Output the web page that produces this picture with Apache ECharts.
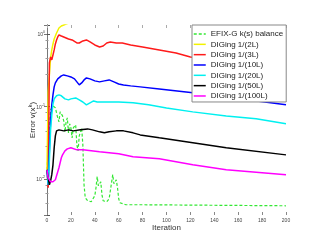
<!DOCTYPE html>
<html>
<head>
<meta charset="utf-8">
<script src="https://cdn.jsdelivr.net/npm/echarts@6/dist/echarts.min.js"></script>
<style>html,body{margin:0;padding:0;background:#fff;}#c{width:323px;height:249px;}</style>
</head>
<body>
<div id="c"></div>
<script>
// ---- data ----
const seriesNames = ['EFIX-G k(s) balance','DIGing 1/(2L)','DIGing 1/(3L)','DIGing 1/(10L)','DIGing 1/(20L)','DIGing 1/(50L)','DIGing 1/(100L)'];
const xTicks = [0,20,40,60,80,100,120,140,160,180,200];
const yDecades = [0.01, 0.1, 1];

const greenIter = [0,1,2,3,5,7,9,10,11,13,14,15,16,17,18,19,20,21,22,24,25,26,27,29,30,31,32,34,37,40,41,42,43,44,45,46,47,50,52,54,55,56,57,58,59,60,61,66,80,200];
const greenVals = [0.0133,0.0251,0.0556,0.0895,0.1016,0.0953,0.0694,0.0611,0.0840,0.0739,0.0631,0.0445,0.0611,0.0694,0.0431,0.0574,0.0505,0.0368,0.0505,0.0556,0.0294,0.0243,0.0392,0.0505,0.0294,0.00826,0.00547,0.00497,0.00482,0.00583,0.00752,0.0107,0.00800,0.00752,0.00910,0.00601,0.00497,0.00482,0.00530,0.00881,0.0114,0.00853,0.00826,0.00969,0.00752,0.00530,0.00467,0.00438,0.00438,0.00424];

const yellowIter = [0,1,2,3,4,5,6,7,8,10,12,14,16,20,30];
const yellowVals = [0.0133,0.158,0.272,0.467,0.602,0.728,0.853,0.938,1.03,1.21,1.29,1.33,1.37,1.46,1.66];

const redIter = [0,1,2,3,4,5,6,7,8,9,10,12,14,18,21,25,27,30,33,36,40,44,47,50,53,58,63,70,80,94,108,120,150,180,200];
const redVals = [0.0133,0.00752,0.398,0.482,0.438,0.513,0.602,0.728,0.827,0.909,0.969,0.938,0.909,0.853,0.827,0.751,0.751,0.801,0.827,0.776,0.705,0.662,0.683,0.751,0.776,0.751,0.751,0.705,0.662,0.602,0.547,0.482,0.424,0.374,0.340];

const blueIter = [0,1,2,3,4,5,6,7,9,12,14,17,20,23,25,27,29,31,33,36,40,44,48,52,56,60,64,70,78,94,122,150,200];
const blueVals = [0.0133,0.00826,0.0251,0.0651,0.105,0.144,0.186,0.211,0.240,0.264,0.272,0.264,0.255,0.240,0.218,0.198,0.211,0.232,0.247,0.240,0.225,0.218,0.225,0.232,0.218,0.204,0.198,0.192,0.186,0.174,0.154,0.135,0.105];

const cyanIter = [0,1,2,3,4,5,6,8,10,12,15,18,20,24,27,30,33,36,39,42,48,60,72,85,100,122,150,175,200];
const cyanVals = [0.0133,0.00826,0.0183,0.0474,0.0763,0.108,0.127,0.140,0.144,0.140,0.127,0.123,0.127,0.131,0.123,0.115,0.105,0.112,0.119,0.115,0.115,0.115,0.112,0.105,0.0953,0.0840,0.0739,0.0673,0.0574];

const blackIter = [0,1,2,3,4,5,6,7,8,10,14,18,22,28,34,38,44,48,52,58,64,72,78,94,122,150,200];
const blackVals = [0.0133,0.0103,0.00826,0.00939,0.0114,0.0156,0.0268,0.0392,0.0459,0.0474,0.0459,0.0474,0.0459,0.0474,0.0489,0.0474,0.0445,0.0431,0.0445,0.0459,0.0459,0.0431,0.0404,0.0368,0.0314,0.0268,0.0214];

const magentaIter = [0,1,2,3,4,5,7,9,10,12,13,15,17,20,25,30,44,60,72,94,122,150,200];
const magentaVals = [0.0133,0.0103,0.00969,0.00910,0.00881,0.00910,0.00969,0.0125,0.0142,0.0195,0.0214,0.0243,0.0259,0.0268,0.0251,0.0251,0.0236,0.0221,0.0201,0.0189,0.0156,0.0133,0.0114];

const colors = ['#33e833','#f2f200','#ff1a1a','#0000ff','#00f0f0','#000000','#ff00ff'];
const iters = [greenIter,yellowIter,redIter,blueIter,cyanIter,blackIter,magentaIter];
const vals = [greenVals,yellowVals,redVals,blueVals,cyanVals,blackVals,magentaVals];

const yMin = Math.pow(10,-2.5), yMax = Math.pow(10,0.124);

const chart = echarts.init(document.getElementById('c'), null, {renderer:'canvas'});
const font = 'Liberation Sans, Arial, sans-serif';

function yLabel(v){
  const l = Math.log10(v);
  const e = Math.round(l);
  if (Math.abs(l-e) > 1e-6) return '';
  if (!yDecades.some(d => Math.abs(Math.log10(d)-e) < 1e-6)) return '';
  return '{b|10}{s|' + e + '}';
}

const series = seriesNames.map((name,i)=>({
  name: name,
  type: 'line',
  xAxisIndex: 0, yAxisIndex: 0,
  data: iters[i].map((x,j)=>[x, vals[i][j]]),
  symbol: 'none',
  smooth: false,
  clip: true,
  lineStyle: {color: colors[i], width: i===0 ? 1.2 : 1.5, type: i===0 ? [3,2] : 'solid'},
  itemStyle: {color: colors[i]},
  z: 2
}));

chart.setOption({
  animation: false,
  backgroundColor: '#fff',
  grid: {left: 47, right: 37, top: 25, bottom: 34, containLabel: false},
  legend: {
    orient: 'vertical', left: 192, top: 25,
    data: seriesNames,
    backgroundColor: '#fff', borderColor: '#888', borderWidth: 1,
    padding: [5,3,2,1],
    itemWidth: 12, itemHeight: 8, itemGap: 2.33,
    itemStyle: {opacity: 0},
    lineStyle: {width: 1.5},
    textStyle: {fontSize: 8, fontFamily: font, color: '#222'},
    z: 10
  },
  xAxis: [{
    type: 'value', min: 0, max: 200, interval: 20,
    name: 'Iteration', nameLocation: 'middle', nameGap: 9, nameMoveOverlap: false,
    nameTextStyle: {fontSize: 8, fontFamily: font, color: '#333'},
    axisLine: {show: false},
    axisTick: {show: true, inside: true, length: 3, lineStyle: {color: '#888'}},
    axisLabel: {fontSize: 5, fontFamily: font, color: '#444', margin: 3,
      formatter: v => xTicks.indexOf(v) >= 0 ? String(v) : ''},
    splitLine: {show: false}
  },{
    type: 'value', min: 0, max: 200, interval: 20, position: 'top',
    axisLine: {show: false},
    axisTick: {show: true, inside: true, length: 3, lineStyle: {color: '#aaa'}},
    axisLabel: {show: false}, splitLine: {show: false}
  }],
  yAxis: [{
    type: 'log', logBase: 10, min: yMin, max: yMax,
    name: '{n|Error v(x}{s|k}{n|)}', nameLocation: 'middle', nameGap: 10, nameMoveOverlap: false,
    nameTextStyle: {fontFamily: font, color: '#333',
      rich: {n: {fontSize: 8, fontFamily: font, color: '#333', lineHeight: 10, verticalAlign: 'bottom'},
             s: {fontSize: 6, fontFamily: font, color: '#333', verticalAlign: 'top', lineHeight: 10}}},
    axisLine: {show: true, lineStyle: {color: '#555', width: 1}},
    axisTick: {show: true, inside: true, length: 3, lineStyle: {color: '#555'}},
    minorTick: {show: true, splitNumber: 5, length: 1.5, lineStyle: {color: '#999'}},
    axisLabel: {margin: 2, formatter: yLabel, fontFamily: font,
      rich: {b: {fontSize: 5, color: '#444', fontFamily: font, verticalAlign: 'bottom', lineHeight: 7},
             s: {fontSize: 3.5, color: '#444', fontFamily: font, verticalAlign: 'top', lineHeight: 7}}},
    splitLine: {show: false}
  },{
    type: 'log', logBase: 10, min: yMin, max: yMax, position: 'right',
    axisLine: {show: true, lineStyle: {color: '#777', width: 1}},
    axisTick: {show: true, inside: true, length: 3, lineStyle: {color: '#777'}},
    minorTick: {show: true, splitNumber: 5, length: 1.5, lineStyle: {color: '#999'}},
    axisLabel: {show: false}, splitLine: {show: false}
  }],
  series: series
});
</script>
</body>
</html>
